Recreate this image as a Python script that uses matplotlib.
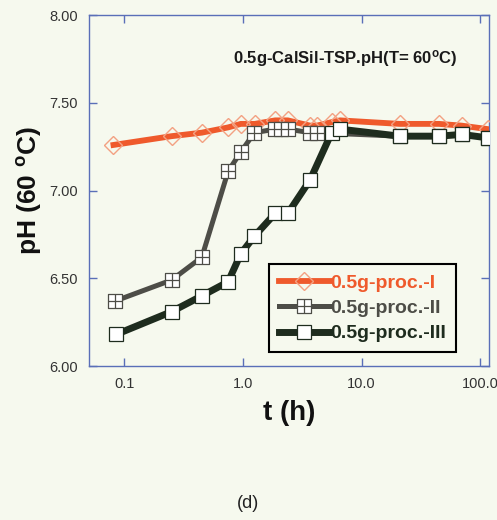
import matplotlib
matplotlib.use("Agg")
import matplotlib.pyplot as plt
from matplotlib.path import Path

# ---- data ----
t_I = [0.081, 0.25, 0.45, 0.75, 0.96, 1.26, 1.87, 2.39, 3.68, 4.2, 5.6, 6.6, 21, 45, 70, 117]
ph_I = [7.26, 7.31, 7.33, 7.36, 7.38, 7.38, 7.40, 7.40, 7.37, 7.37, 7.39, 7.40, 7.38, 7.38, 7.37, 7.35]

t_II = [0.083, 0.25, 0.45, 0.75, 0.96, 1.25, 1.87, 2.1, 2.39, 3.68, 4.2, 21, 45, 70, 117]
ph_II = [6.37, 6.49, 6.62, 7.11, 7.22, 7.33, 7.35, 7.35, 7.35, 7.33, 7.33, 7.31, 7.31, 7.32, 7.30]

t_III = [0.085, 0.25, 0.45, 0.75, 0.96, 1.25, 1.87, 2.39, 3.68, 5.6, 6.6, 21, 45, 70, 117]
ph_III = [6.18, 6.31, 6.40, 6.48, 6.64, 6.74, 6.87, 6.87, 7.06, 7.33, 7.35, 7.31, 7.31, 7.32, 7.30]

labels = ["0.5g-proc.-I", "0.5g-proc.-II", "0.5g-proc.-III"]
x_ticks = [0.1, 1.0, 10.0, 100.0]
x_ticklabels = ["0.1", "1.0", "10.0", "100.0"]
y_ticks = [6.0, 6.5, 7.0, 7.5, 8.0]
y_ticklabels = ["6.00", "6.50", "7.00", "7.50", "8.00"]

# ---- style ----
plt.rcParams['font.family'] = ['Liberation Sans', 'DejaVu Sans']
plt.rcParams['mathtext.fontset'] = 'custom'
plt.rcParams['mathtext.rm'] = 'Liberation Sans:bold'
plt.rcParams['mathtext.it'] = 'Liberation Sans:bold'
plt.rcParams['mathtext.bf'] = 'Liberation Sans:bold'

bg = '#f6f9ee'
spine_c = '#5a6fb8'
c_I = '#ef5a2c'
c_I_m = '#f3a182'
c_II = '#4d4d47'
c_III = '#1e2c1e'

fig = plt.figure(figsize=(4.97, 5.20), dpi=100, facecolor=bg)
ax = fig.add_axes([0.179, 0.296, 0.805, 0.675])
ax.set_facecolor(bg)

# crossed-square marker
verts = [(-1, -1), (1, -1), (1, 1), (-1, 1), (-1, -1),
         (0, -1), (0, 1), (-1, 0), (1, 0)]
codes = [Path.MOVETO, Path.LINETO, Path.LINETO, Path.LINETO, Path.CLOSEPOLY,
         Path.MOVETO, Path.LINETO, Path.MOVETO, Path.LINETO]
cross_sq = Path(verts, codes)

ax.plot(t_I, ph_I, color=c_I, lw=4.2, marker='D', markersize=9,
        markerfacecolor='none', markeredgecolor=c_I_m, markeredgewidth=1.0,
        label=labels[0], zorder=3)
ax.plot(t_II, ph_II, color=c_II, lw=3.6, marker=cross_sq, markersize=9.5,
        markerfacecolor='white', markeredgecolor=c_II, markeredgewidth=0.9,
        label=labels[1], zorder=4)
ax.plot(t_III, ph_III, color=c_III, lw=5.0, marker='s', markersize=9.5,
        markerfacecolor='white', markeredgecolor=c_III, markeredgewidth=0.9,
        label=labels[2], zorder=5)

ax.set_xscale('log')
ax.set_xlim(0.0503, 119)
ax.set_ylim(6.0, 8.0)
ax.set_xticks(x_ticks)
ax.set_xticklabels(x_ticklabels)
ax.xaxis.set_minor_locator(matplotlib.ticker.NullLocator())
ax.set_yticks(y_ticks)
ax.set_yticklabels(y_ticklabels)
ax.tick_params(direction='in', top=True, right=True, length=6, width=1,
               color=spine_c, labelsize=10.5, labelcolor='#333333', pad=8)
for s in ax.spines.values():
    s.set_color(spine_c)
    s.set_linewidth(1.0)

ax.set_xlabel('t (h)', fontsize=20, fontweight='bold', labelpad=6, color='#111111')
ax.set_ylabel(r'pH (60 $^{o}$C)', fontsize=19, fontweight='bold', labelpad=4, color='#111111')

ax.text(0.64, 0.875, r'0.5g-CalSil-TSP.pH(T= 60$^{o}$C)', transform=ax.transAxes,
        ha='center', va='center', fontsize=12, fontweight='bold', color='#1a1a1a')

leg = ax.legend(loc='lower right', bbox_to_anchor=(0.918, 0.04), frameon=True,
                fancybox=False, edgecolor='black', facecolor=bg, framealpha=1,
                prop={'size': 14, 'weight': 'bold'}, handlelength=2.6,
                handletextpad=0.05, borderpad=0.5, labelspacing=0.4,
                borderaxespad=0)
leg.get_frame().set_linewidth(1.5)
for txt, c in zip(leg.get_texts(), [c_I, c_II, c_III]):
    txt.set_color(c)

fig.text(248 / 497, 1 - 503 / 520, '(d)', ha='center', va='center', fontsize=13, color='#222222')

fig.savefig('out.png', dpi=100, facecolor=bg)
